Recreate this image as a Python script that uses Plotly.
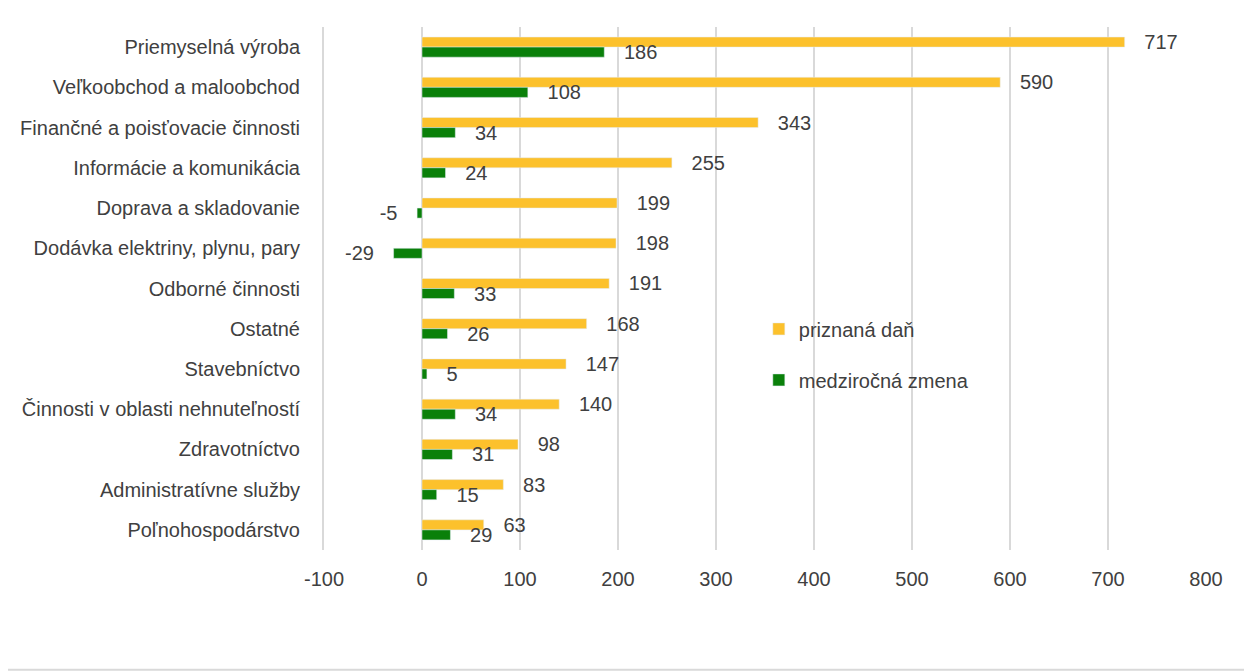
import plotly.graph_objects as go

categories = [
    "Priemyselná výroba",
    "Veľkoobchod a maloobchod",
    "Finančné a poisťovacie činnosti",
    "Informácie a komunikácia",
    "Doprava a skladovanie",
    "Dodávka elektriny, plynu, pary",
    "Odborné činnosti",
    "Ostatné",
    "Stavebníctvo",
    "Činnosti v oblasti nehnuteľností",
    "Zdravotníctvo",
    "Administratívne služby",
    "Poľnohospodárstvo",
]
priznana_dan = [717, 590, 343, 255, 199, 198, 191, 168, 147, 140, 98, 83, 63]
medzirocna_zmena = [186, 108, 34, 24, -5, -29, 33, 26, 5, 34, 31, 15, 29]
x_ticks = [-100, 0, 100, 200, 300, 400, 500, 600, 700, 800]

FONT = "Liberation Sans, Arial, sans-serif"
SIZE = 20
TXT = "#404040"
PAD = "\u00a0\u00a0\u00a0"


def labels(vals):
    # padding so the label sits a little away from the bar end
    return [PAD + str(v) if v >= 0 else str(v) + PAD for v in vals]


fig = go.Figure()
fig.add_trace(go.Bar(
    y=categories, x=priznana_dan, orientation="h", name="priznaná daň",
    marker_color="#FCC12C", text=labels(priznana_dan), textposition="outside",
    constraintext="none", cliponaxis=False, legendgroup="a",
    textfont=dict(family=FONT, size=SIZE, color=TXT),
))
fig.add_trace(go.Bar(
    y=categories, x=medzirocna_zmena, orientation="h", name="medziročná zmena",
    marker_color="#0A800A", text=labels(medzirocna_zmena), textposition="outside",
    constraintext="none", cliponaxis=False, legendgroup="b",
    textfont=dict(family=FONT, size=SIZE, color=TXT),
))

# the page body has an 8px margin, so the figure is a bit smaller than the window
fig.update_layout(
    width=1244, height=664,
    margin=dict(l=314, r=46, t=19, b=122),
    paper_bgcolor="white", plot_bgcolor="white",
    barmode="group", bargap=0.5, bargroupgap=0,
    font=dict(family=FONT, size=SIZE, color=TXT),
    showlegend=True,
    legend=dict(x=0.493, y=0.46, xanchor="left", yanchor="top",
                bgcolor="rgba(0,0,0,0)", tracegroupgap=22,
                font=dict(family=FONT, size=SIZE, color=TXT)),
)
fig.update_xaxes(
    range=[-100, 800], tickvals=x_ticks, ticktext=[str(v) for v in x_ticks],
    showgrid=True, gridcolor="#D9D9D9", gridwidth=2, zeroline=False,
    showline=False, ticks="outside", ticklen=11, tickcolor="rgba(0,0,0,0)",
    tickfont=dict(family=FONT, size=SIZE, color=TXT),
)
fig.update_yaxes(
    autorange="reversed", showgrid=False, zeroline=False,
    showline=True, linecolor="#D9D9D9", linewidth=2,
    ticks="outside", ticklen=18, tickcolor="rgba(0,0,0,0)",
    tickfont=dict(family=FONT, size=SIZE, color=TXT),
)
# thin rule along the bottom of the page
fig.add_shape(type="line", xref="paper", yref="paper", x0=-0.4, x1=1.1,
              y0=-0.229, y1=-0.229, line=dict(color="#D9D9D9", width=2))

fig.write_html("out.html")
